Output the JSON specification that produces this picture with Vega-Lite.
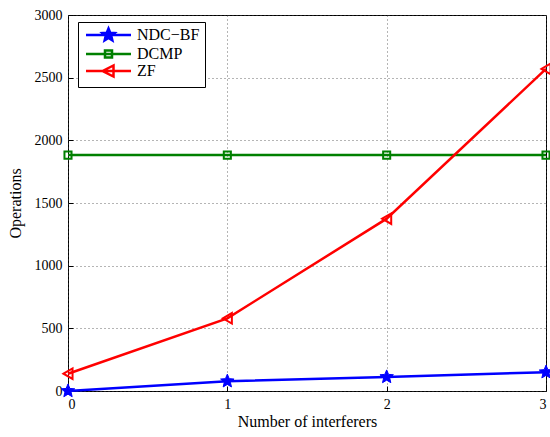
{
  "$schema": "https://vega.github.io/schema/vega-lite/v6.json",
  "width": 478,
  "height": 376,
  "autosize": {"type": "none"},
  "padding": {"left": 68, "top": 15, "right": 4, "bottom": 46},
  "background": "white",
  "config": {
    "view": {"stroke": "black", "strokeWidth": 1},
    "font": "Liberation Serif",
    "axis": {
      "labelFont": "Liberation Serif",
      "titleFont": "Liberation Serif",
      "labelFontSize": 14,
      "titleFontSize": 16,
      "titleFontWeight": "normal",
      "labelColor": "black",
      "titleColor": "black",
      "domain": false,
      "tickColor": "black",
      "tickSize": -5,
      "gridColor": "#444",
      "gridDash": [1, 3],
      "gridWidth": 0.8
    }
  },
  "data": {
    "values": [
      {"k": 0, "series": "NDC\u2212BF", "ops": 0},
      {"k": 1, "series": "NDC\u2212BF", "ops": 78},
      {"k": 2, "series": "NDC\u2212BF", "ops": 112},
      {"k": 3, "series": "NDC\u2212BF", "ops": 150},
      {"k": 0, "series": "DCMP", "ops": 1882},
      {"k": 1, "series": "DCMP", "ops": 1882},
      {"k": 2, "series": "DCMP", "ops": 1882},
      {"k": 3, "series": "DCMP", "ops": 1882},
      {"k": 0, "series": "ZF", "ops": 138},
      {"k": 1, "series": "ZF", "ops": 580},
      {"k": 2, "series": "ZF", "ops": 1375},
      {"k": 3, "series": "ZF", "ops": 2570}
    ]
  },
  "encoding": {
    "x": {
      "field": "k", "type": "quantitative",
      "scale": {"domain": [0, 3], "nice": false},
      "axis": {"values": [0, 1, 2, 3], "format": "d", "title": "Number of interferers", "labelPadding": 11, "titlePadding": 2}
    },
    "y": {
      "field": "ops", "type": "quantitative",
      "scale": {"domain": [0, 3000], "nice": false},
      "axis": {"values": [0, 500, 1000, 1500, 2000, 2500, 3000], "format": "d", "title": "Operations", "labelPadding": 11, "titlePadding": 11}
    }
  },
  "layer": [
    {
      "mark": {"type": "line", "strokeWidth": 2.5, "clip": false},
      "encoding": {
        "color": {
          "field": "series", "type": "nominal",
          "scale": {"domain": ["NDC\u2212BF", "DCMP", "ZF"], "range": ["#0000FF", "#008000", "#FF0000"]},
          "legend": {
            "orient": "none",
            "legendX": 10,
            "legendY": 7,
            "title": null,
            "strokeColor": "black",
            "fillColor": "white",
            "padding": 5,
            "labelFont": "Liberation Serif",
            "labelFontSize": 16,
            "labelColor": "black",
            "symbolSize": 100,
            "symbolStrokeWidth": 2.5,
            "labelOffset": 38,
            "rowPadding": -5,
            "encode": {
              "symbols": {
                "update": {
                  "shape": {"signal": "datum.value === 'ZF' ? 'M-1,0L8,0M2.3,0L4.5,-1.1L4.5,1.1Z' : (datum.value === 'DCMP' ? 'M-1,0L8,0M2.8,-0.7L4.2,-0.7L4.2,0.7L2.8,0.7Z' : 'M-1,0L8,0M3.5,-1.3L3.845,-0.473L4.736,-0.402L4.056,0.181L4.264,1.052L3.5,0.585L2.736,1.052L2.944,0.181L2.264,-0.402L3.155,-0.473Z')"},
                  "fill": {"signal": "datum.value === 'ZF' || datum.value === 'DCMP' ? 'transparent' : '#0000FF'"}
                }
              }
            }
          }
        }
      }
    },
    {
      "transform": [{"filter": "datum.series === 'NDC\u2212BF'"}],
      "mark": {"type": "point", "shape": "M0,-1L0.265,-0.364L0.951,-0.309L0.428,0.139L0.588,0.809L0,0.45L-0.588,0.809L-0.428,0.139L-0.951,-0.309L-0.265,-0.364Z", "size": 200, "filled": true, "color": "#0000FF", "stroke": "#0000FF", "strokeWidth": 1, "opacity": 1, "clip": false},
      "encoding": {}
    },
    {
      "transform": [{"filter": "datum.series === 'DCMP'"}],
      "mark": {"type": "point", "shape": "square", "size": 50, "filled": false, "color": "#008000", "strokeWidth": 2, "opacity": 1, "clip": false},
      "encoding": {}
    },
    {
      "transform": [{"filter": "datum.series === 'ZF'"}],
      "mark": {"type": "point", "shape": "triangle-left", "size": 110, "filled": false, "color": "#FF0000", "strokeWidth": 2, "opacity": 1, "clip": false},
      "encoding": {}
    }
  ]
}
